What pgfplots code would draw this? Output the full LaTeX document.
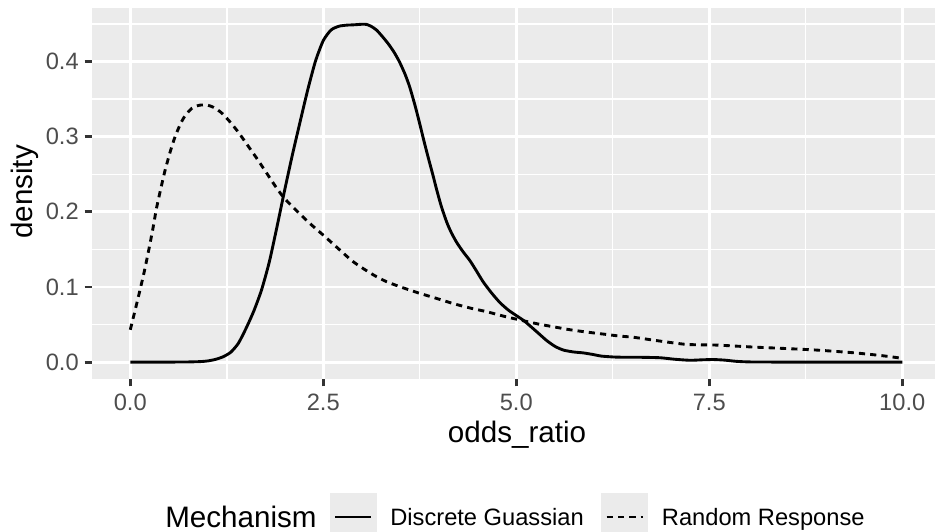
\documentclass[border=0pt]{standalone}
\usepackage{fontspec}
\setmainfont{Liberation Sans}
\usepackage{pgfplots}
\pgfplotsset{compat=1.18}
\definecolor{panelbg}{HTML}{EBEBEB}
\definecolor{gtick}{HTML}{333333}
\definecolor{glabel}{HTML}{4D4D4D}
\begin{document}
\begin{tikzpicture}
\begin{axis}[
  at={(34.20pt,56.51pt)}, anchor=south west,
  width=313.38pt, height=137.92pt, scale only axis,
  xmin=-0.496, xmax=10.424, ymin=-0.0225, ymax=0.4714,
  axis background/.style={fill=panelbg},
  axis line style={draw=none},
  xtick={0,2.5,5,7.5,10}, ytick={0,0.1,0.2,0.3,0.4},
  minor xtick={1.25,3.75,6.25,8.75}, minor ytick={0.05,0.15,0.25,0.35,0.45},
  grid=both,
  major grid style={white, line width=1.07pt},
  minor grid style={white, line width=0.53pt},
  tick align=outside, xtick pos=left, ytick pos=left,
  major tick length=2.75pt, minor tick length=0pt,
  tick style={gtick, line width=1.07pt},
  /pgf/number format/assume math mode=true,
  /pgf/number format/fixed, /pgf/number format/fixed zerofill, /pgf/number format/precision=1,
  ticklabel style={font=\fontsize{8.8}{10}\selectfont, text=glabel, inner sep=0pt},
  xticklabel style={anchor=north, yshift=-2.8pt},
  yticklabel style={anchor=east, xshift=-2.0pt},
  xlabel={odds\_ratio}, ylabel={density},
  label style={font=\fontsize{11}{13}\selectfont, inner sep=0pt},
  xlabel style={at={(axis description cs:0.5042,-0.1712)}, anchor=base},
  ylabel style={at={(axis description cs:-0.0708,0.504)}, anchor=base},
]
\addplot[black, line width=1.07pt, line join=round, smooth, tension=0.4] coordinates {
(0.00,0.000) (0.40,0.000) (0.70,0.0001) (0.90,0.0006) (1.00,0.0015) (1.10,0.0035)
(1.20,0.007) (1.30,0.013) (1.40,0.025) (1.50,0.045) (1.60,0.068) (1.70,0.096)
(1.80,0.133) (1.90,0.180) (2.00,0.229) (2.10,0.276) (2.20,0.320) (2.30,0.363)
(2.40,0.401) (2.50,0.428) (2.60,0.442) (2.70,0.447) (2.80,0.4485) (2.90,0.449)
(3.00,0.4497) (3.06,0.4495) (3.12,0.447) (3.19,0.442) (3.26,0.434) (3.34,0.424)
(3.42,0.412) (3.49,0.399) (3.56,0.383) (3.62,0.366) (3.69,0.341) (3.75,0.317)
(3.80,0.296) (3.86,0.272) (3.92,0.249) (3.97,0.229) (4.03,0.207) (4.10,0.186)
(4.16,0.172) (4.23,0.159) (4.31,0.147) (4.40,0.135) (4.48,0.122) (4.57,0.107)
(4.68,0.092) (4.79,0.079) (4.90,0.069) (5.00,0.062) (5.10,0.055) (5.18,0.048)
(5.28,0.039) (5.39,0.029) (5.50,0.021) (5.61,0.016) (5.74,0.0135) (5.87,0.0122)
(6.00,0.010) (6.10,0.008) (6.30,0.0066) (6.60,0.0064) (6.86,0.0058) (7.05,0.0038)
(7.25,0.0024) (7.40,0.0030) (7.55,0.0034) (7.70,0.0026) (7.85,0.0010) (8.03,0.0002)
(8.50,0.0) (10.00,0.0)
};
\addplot[black, line width=1.07pt, dash pattern=on 2.3pt off 1.9pt, smooth, tension=0.4] coordinates {
(0.00,0.043) (0.06,0.068) (0.126,0.096) (0.18,0.120) (0.233,0.146) (0.29,0.176)
(0.34,0.205) (0.40,0.233) (0.45,0.255) (0.52,0.281) (0.58,0.300) (0.65,0.317)
(0.71,0.328) (0.80,0.338) (0.90,0.342) (1.00,0.342) (1.08,0.339) (1.18,0.332)
(1.29,0.320) (1.40,0.306) (1.51,0.290) (1.64,0.271) (1.77,0.251) (1.88,0.234)
(1.98,0.220) (2.09,0.208) (2.20,0.197) (2.30,0.187) (2.41,0.177) (2.50,0.169)
(2.63,0.157) (2.76,0.145) (2.87,0.135) (2.98,0.127) (3.15,0.116) (3.32,0.107)
(3.53,0.099) (3.75,0.0915) (3.96,0.085) (4.18,0.078) (4.40,0.072) (4.62,0.067)
(4.84,0.061) (5.05,0.056) (5.27,0.051) (5.48,0.047) (5.70,0.043) (5.91,0.040)
(6.15,0.037) (6.34,0.0346) (6.52,0.033) (6.86,0.028) (7.21,0.0235) (7.60,0.0226)
(8.07,0.020) (8.50,0.018) (8.89,0.016) (9.37,0.0124) (9.75,0.0084) (10.00,0.005)
};
\end{axis}
\begin{scope}[x=0.371747pt, y=-0.371747pt, shift={(0pt,197.40pt)}]
\node[anchor=base west, inner sep=0pt, font=\fontsize{11}{13}\selectfont] at (164.8,527.7) {Mechanism};
\fill[panelbg] (330,493.3) rectangle (376.7,540);
\draw[black, line width=1.07pt] (335,517) -- (370.7,517);
\node[anchor=base west, inner sep=0pt, font=\fontsize{8.8}{10}\selectfont] at (389.8,525.7) {Discrete Guassian};
\fill[panelbg] (601,493.3) rectangle (647.7,540);
\draw[black, line width=1.07pt, dash pattern=on 2.3pt off 1.9pt] (606.7,517) -- (643,517);
\node[anchor=base west, inner sep=0pt, font=\fontsize{8.8}{10}\selectfont] at (661.4,525.7) {Random Response};
\end{scope}
\pgfresetboundingbox
\path[use as bounding box] (0,0) rectangle (347.58pt,197.40pt);
\end{tikzpicture}
\end{document}
